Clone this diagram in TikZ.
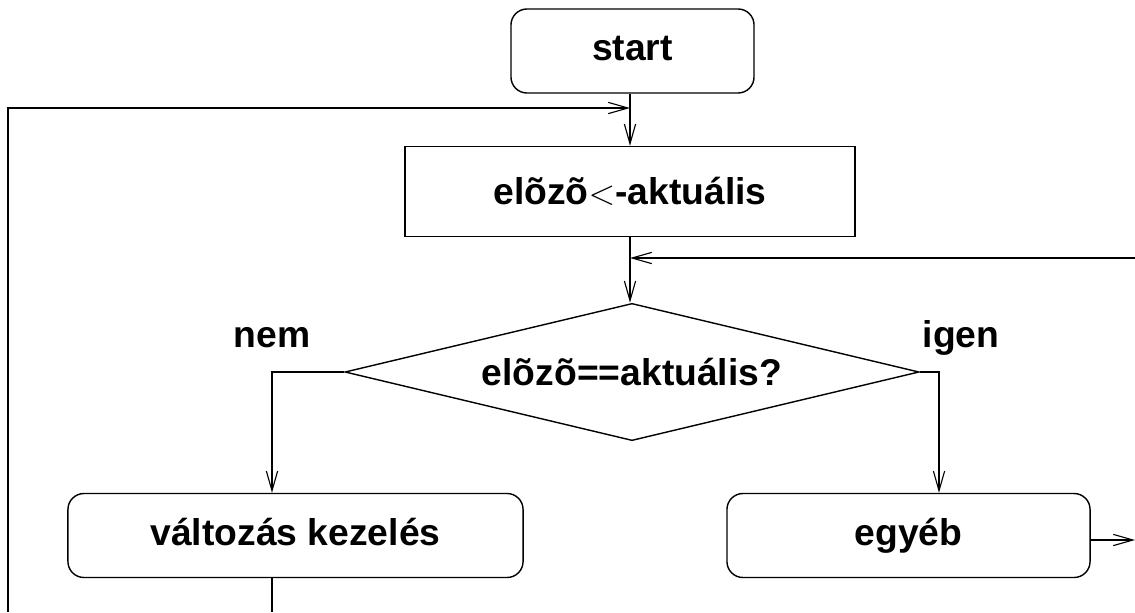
\documentclass[tikz,border=0pt]{standalone}
\usepackage{fontspec}
\setmainfont{Liberation Sans}
\usetikzlibrary{shapes.geometric, arrows.meta, positioning}

\begin{document}
\begin{tikzpicture}[x=0.025cm, y=-0.025cm, line width=1pt,
        font=\fontsize{26.5}{31}\selectfont\bfseries,
        flow/.style={-{Straight Barb[length=14pt, width=8pt, line width=0.8pt]}},
        roundbox/.style={draw, rounded corners=0.4cm, inner sep=0pt, minimum height=2.1cm,
            text height=18pt, text depth=4pt},
        plainbox/.style={draw, inner sep=0pt, minimum height=2.25cm},
        decision/.style={draw, diamond, inner sep=0pt, aspect=4.18,
            minimum width=14.35cm, minimum height=3.43cm}]
    \useasboundingbox (0,0) rectangle (1135,612);
    % boxes
    \node[roundbox, minimum width=6.075cm] (start) at (632.5,51) {start};
    \node[plainbox, minimum width=11.25cm] (copy) at (630,191.5) {elõzõ$<$-aktuális};
    \node[decision] (test) at (632,372) {elõzõ==aktuális?};
    \node[roundbox, minimum width=11.375cm] (change) at (295.5,535.5) {változás kezelés};
    \node[roundbox, minimum width=9.075cm] (other) at (908.5,535.5) {egyéb};
    \node (no) at (272,338) {nem};
    \node (yes) at (961,338) {igen};
    % free ends
    \coordinate (loopin) at (630,108);
    \coordinate (backin) at (630,258);
    \coordinate (leftbot) at (8,612);
    \coordinate (rightin) at (1135,258);
    \coordinate (rightout) at (1135,540);
    \coordinate (changeout) at (272,612);
    \coordinate (yesline) at (939,0);
    % connectors
    \draw[flow] (start.south -| loopin) -- (copy.north -| loopin);
    \draw[flow] (leftbot) |- (loopin);
    \draw[flow] (copy.south -| backin) -- (test.north -| backin);
    \draw[flow] (rightin) -- (backin);
    \draw[flow] (test.west) -| (change.north -| changeout);
    \draw[flow] (test.east) -| (other.north -| yesline);
    \draw[flow] (other.east |- rightout) -- (rightout);
    \draw (change.south -| changeout) -- (changeout);
\end{tikzpicture}
\end{document}
